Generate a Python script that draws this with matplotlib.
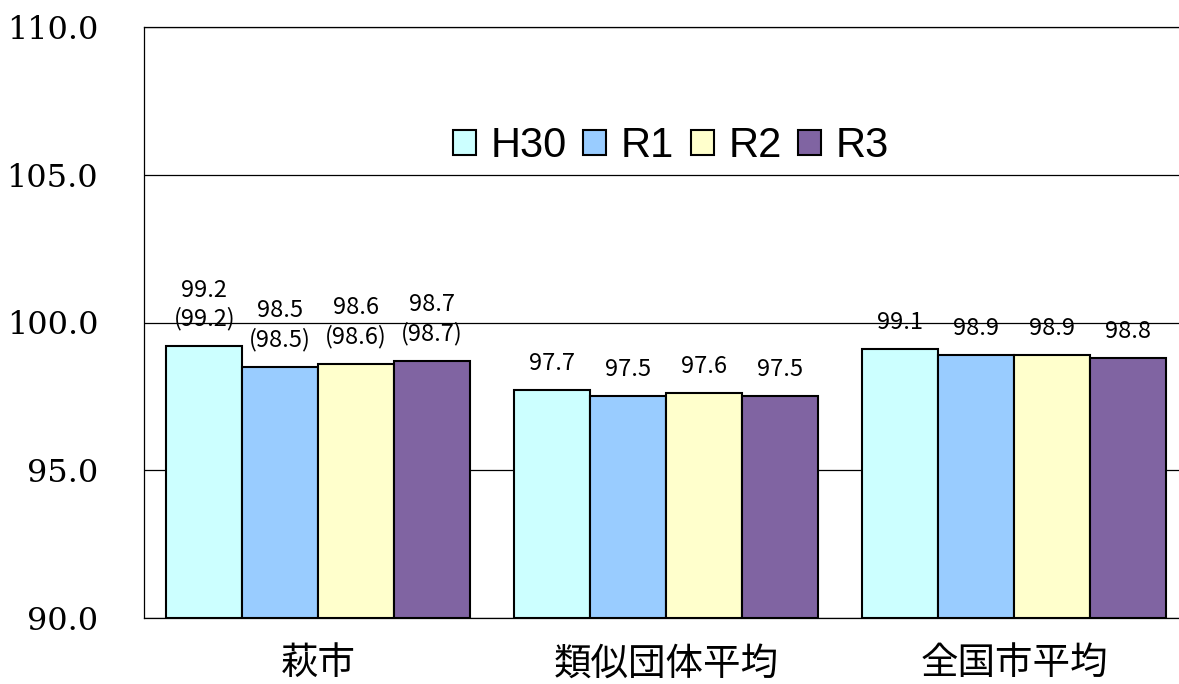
import numpy as np
import matplotlib
matplotlib.use("Agg")
import matplotlib.pyplot as plt

# data
categories = ["萩市", "類似団体平均", "全国市平均"]
series = ["H30", "R1", "R2", "R3"]
values = [
    [99.2, 97.7, 99.1],   # H30
    [98.5, 97.5, 98.9],   # R1
    [98.6, 97.6, 98.9],   # R2
    [98.7, 97.5, 98.8],   # R3
]
# bracketed figures shown under the first group's labels
hagi_paren = [99.2, 98.5, 98.6, 98.7]
yticks = [90.0, 95.0, 100.0, 105.0, 110.0]

colors = ["#CCFFFF", "#99CCFF", "#FFFFCC", "#8064A2"]

W, H = 1179, 684
fig = plt.figure(figsize=(W / 100, H / 100), dpi=100)
ax = fig.add_axes([144 / W, 66 / H, 1044 / W, 591 / H])

x = np.arange(len(categories))
bw = 0.218
jp = ["Noto Sans CJK JP", "DejaVu Sans"]

for i, (name, vals) in enumerate(zip(series, values)):
    pos = x + (i - 1.5) * bw
    ax.bar(pos, [v - 90 for v in vals], bw, bottom=90, color=colors[i],
           edgecolor="black", linewidth=1.5, label=name, zorder=3)
    for j, (p, v) in enumerate(zip(pos, vals)):
        if j == 0:
            txt = f"{v:.1f}\n({hagi_paren[i]:.1f})"
        else:
            txt = f"{v:.1f}"
        ax.annotate(txt, (p, v), xytext=(0, 11), textcoords="offset points",
                    ha="center", va="bottom", fontsize=17, family=jp,
                    linespacing=1.3, zorder=4)

ax.set_xlim(-0.5, 2.5)
ax.set_ylim(90, 110)
ax.set_yticks(yticks)
ax.set_yticklabels([f"{t:.1f}" for t in yticks], family="DejaVu Serif",
                   fontsize=23)
ax.tick_params(axis="y", length=0, pad=33)
ax.set_xticks(x)
ax.set_xticklabels(categories, family=jp, fontsize=27)
ax.tick_params(axis="x", length=0, pad=19)
ax.grid(axis="y", color="black", linewidth=0.9, zorder=0)
for s in ["left", "top", "bottom"]:
    ax.spines[s].set_linewidth(0.9)
ax.spines["right"].set_visible(False)

leg = ax.legend(loc="center", bbox_to_anchor=(671 / W, 1 - 146 / H),
                bbox_transform=fig.transFigure, ncol=4, frameon=False,
                prop={"family": "Liberation Sans", "size": 30},
                handlelength=0.55, handleheight=0.55, handletextpad=0.35,
                columnspacing=0.4)

fig.savefig("out.png", dpi=100)
